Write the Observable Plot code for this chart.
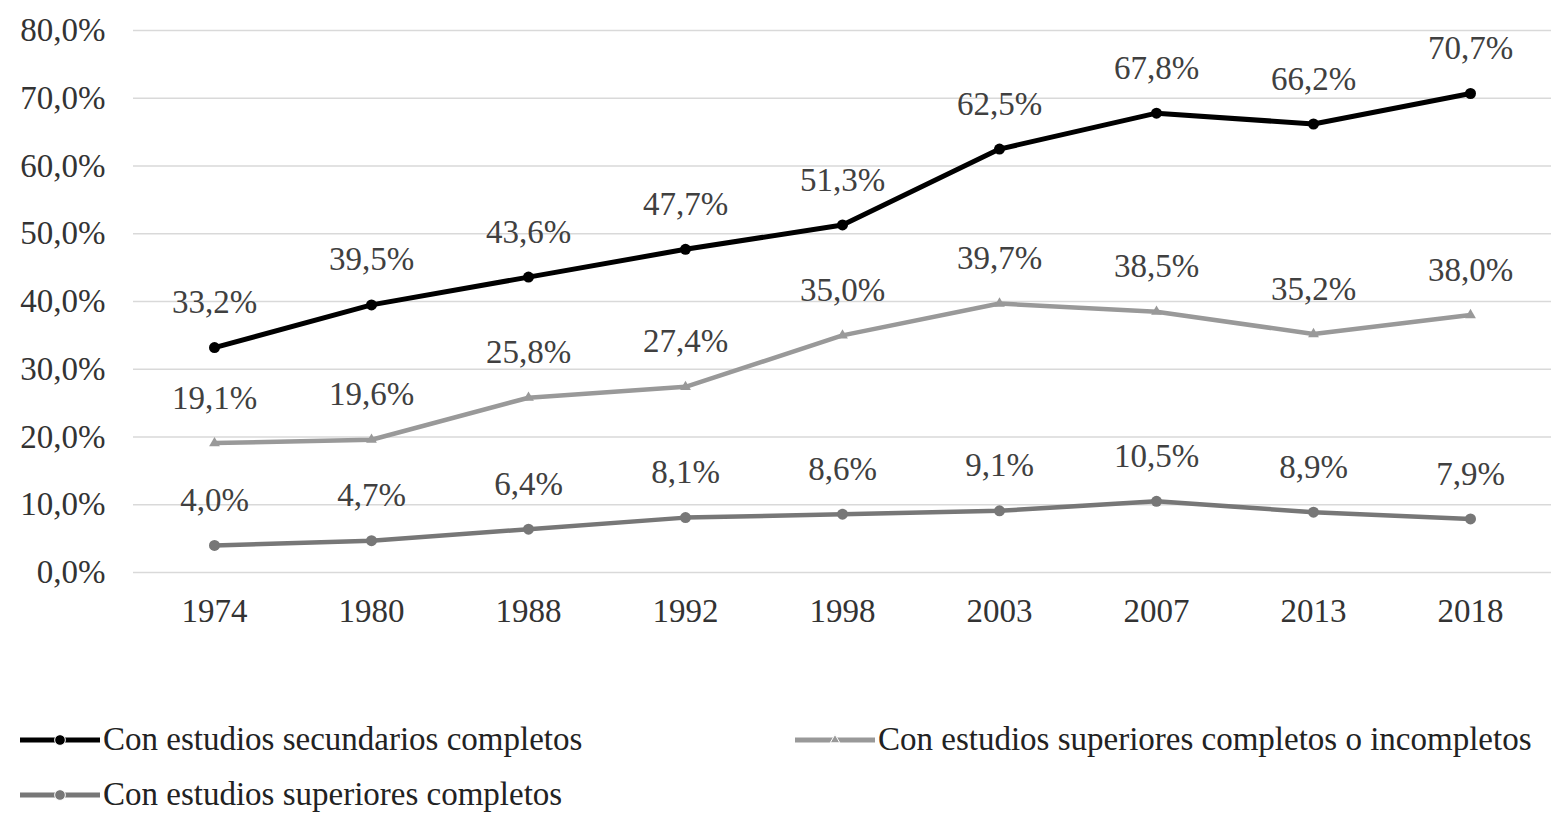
<!DOCTYPE html>
<html>
<head>
<meta charset="utf-8">
<script src="https://cdn.jsdelivr.net/npm/d3@7"></script>
<script src="https://cdn.jsdelivr.net/npm/@observablehq/plot@0.6"></script>
<style>
  html, body { margin: 0; padding: 0; background: #fff; }
  #chart { width: 1551px; }
  .legend { font-family: 'Liberation Serif', 'Times New Roman', serif; font-size: 33px; color: #222; margin-top: 62px; position: relative; height: 110px; }
  .item { position: absolute; display: flex; align-items: center; height: 55px; white-space: nowrap; }
  .item svg { margin-right: 3px; }
</style>
</head>
<body>
<div id="chart"></div>
<script>
const years = ["1974", "1980", "1988", "1992", "1998", "2003", "2007", "2013", "2018"];
const secundarios = [33.2, 39.5, 43.6, 47.7, 51.3, 62.5, 67.8, 66.2, 70.7];
const superioresCI = [19.1, 19.6, 25.8, 27.4, 35.0, 39.7, 38.5, 35.2, 38.0];
const superiores = [4.0, 4.7, 6.4, 8.1, 8.6, 9.1, 10.5, 8.9, 7.9];
const yTicks = [0, 10, 20, 30, 40, 50, 60, 70, 80];
const seriesNames = [
  "Con estudios secundarios completos",
  "Con estudios superiores completos o incompletos",
  "Con estudios superiores completos"
];
const seriesColors = ["#000000", "#999999", "#777777"];
const seriesSymbols = ["circle", "triangle", "circle"];

const fmt = v => v.toFixed(1).replace(".", ",") + "%";
const allSeries = [secundarios, superioresCI, superiores];
const data = allSeries.flatMap((vals, k) => vals.map((v, i) => ({year: years[i], value: v, series: seriesNames[k], k})));

const serif = "'Liberation Serif', 'Times New Roman', serif";
const marks = [
  Plot.gridY(yTicks, {stroke: "#d9d9d9", strokeOpacity: 1, strokeWidth: 1.5}),
  Plot.axisY(yTicks, {tickSize: 0, tickPadding: 28, tickFormat: fmt, fontSize: 33, fill: "#333", label: null}),
  Plot.axisX({tickSize: 0, tickPadding: 26, fontSize: 33, fill: "#333", label: null})
];
allSeries.forEach((vals, k) => {
  const d = data.filter(r => r.k === k);
  marks.push(Plot.line(d, {x: "year", y: "value", stroke: seriesColors[k], strokeWidth: k === 0 ? 5 : 4.5}));
  marks.push(Plot.dot(d, {x: "year", y: "value", fill: seriesColors[k], stroke: "none", symbol: seriesSymbols[k], r: k === 1 ? 4 : 5.5}));
  marks.push(Plot.text(d, {x: "year", y: "value", text: r => fmt(r.value), dy: -45, fontSize: 33, fill: "#404040"}));
});

const chart = Plot.plot({
  width: 1551,
  height: 650,
  marginLeft: 133,
  marginRight: 0,
  marginTop: 30,
  marginBottom: 78,
  style: {fontFamily: serif, fontSize: "33px", background: "white", color: "#333"},
  x: {type: "point", domain: years, padding: 0.5, label: null},
  y: {domain: [0, 80], label: null},
  marks
});
document.getElementById("chart").appendChild(chart);

// Legend
const legend = document.createElement("div");
legend.className = "legend";
const positions = [{left: 20, top: 0}, {left: 795, top: 0}, {left: 20, top: 55}];
seriesNames.forEach((name, k) => {
  const item = document.createElement("div");
  item.className = "item";
  item.style.left = positions[k].left + "px";
  item.style.top = positions[k].top + "px";
  const sw = d3.create("svg").attr("width", 80).attr("height", 20);
  sw.append("line").attr("x1", 0).attr("x2", 80).attr("y1", 10).attr("y2", 10)
    .attr("stroke", seriesColors[k]).attr("stroke-width", 5);
  sw.append("path").attr("transform", "translate(40,10)")
    .attr("d", d3.symbol(seriesSymbols[k] === "triangle" ? d3.symbolTriangle : d3.symbolCircle, k === 1 ? 40 : 90)())
    .attr("fill", seriesColors[k]).attr("stroke", "white").attr("stroke-width", 1);
  item.appendChild(sw.node());
  const span = document.createElement("span");
  span.textContent = name;
  item.appendChild(span);
  legend.appendChild(item);
});
document.body.appendChild(legend);
</script>
</body>
</html>
